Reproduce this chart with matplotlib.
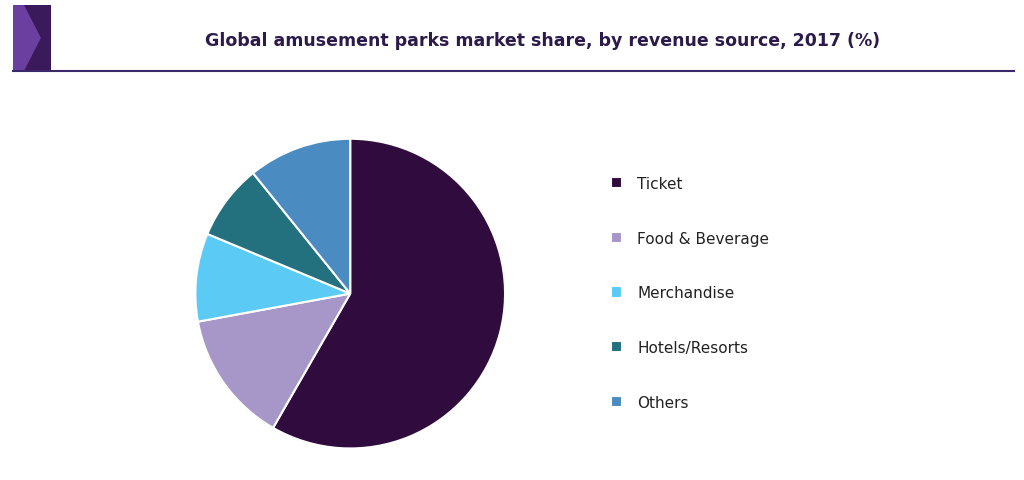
import matplotlib.pyplot as plt
from matplotlib.patches import Polygon

categories = ["Ticket", "Food & Beverage", "Merchandise", "Hotels/Resorts", "Others"]
values = [58.3, 13.8, 9.2, 7.9, 10.8]
colors = ["#300c3e", "#a797c9", "#5bcbf5", "#23707f", "#4a8bc2"]

fig = plt.figure(figsize=(10.24, 4.81), dpi=100)
fig.patch.set_facecolor("white")

# header
fig.text(0.53, 0.915, "Global amusement parks market share, by revenue source, 2017 (%)",
         ha="center", va="center", fontsize=12.5, fontweight="bold", color="#2b1a4a")
fig.add_artist(plt.Line2D([0.013, 0.99], [0.85, 0.85], color="#3a2a6a", lw=1.5))
logo = fig.add_axes([0.013, 0.85, 0.037, 0.138])
logo.set_xlim(0, 1); logo.set_ylim(0, 1); logo.axis("off")
logo.add_patch(Polygon([[0, 0], [1, 0], [1, 1], [0, 1]], color="#6a3fa0"))
logo.add_patch(Polygon([[0.3, 0], [1, 0], [1, 1], [0.3, 1], [0.75, 0.5]], color="#3a1a5a"))

ax = fig.add_axes([0.153, -0.015, 0.378, 0.805])
wedges, _ = ax.pie(values, colors=colors, startangle=90, counterclock=False,
                   wedgeprops=dict(edgecolor="white", linewidth=1.5))
ax.set_aspect("equal")

fig.legend(wedges, categories, loc="center left", bbox_to_anchor=(0.583, 0.389),
           bbox_transform=fig.transFigure,
           frameon=False, fontsize=11, handlelength=0.75, handleheight=0.75,
           labelspacing=2.6, handletextpad=1.0, labelcolor="#222222")

fig.savefig("out.png", dpi=100)
